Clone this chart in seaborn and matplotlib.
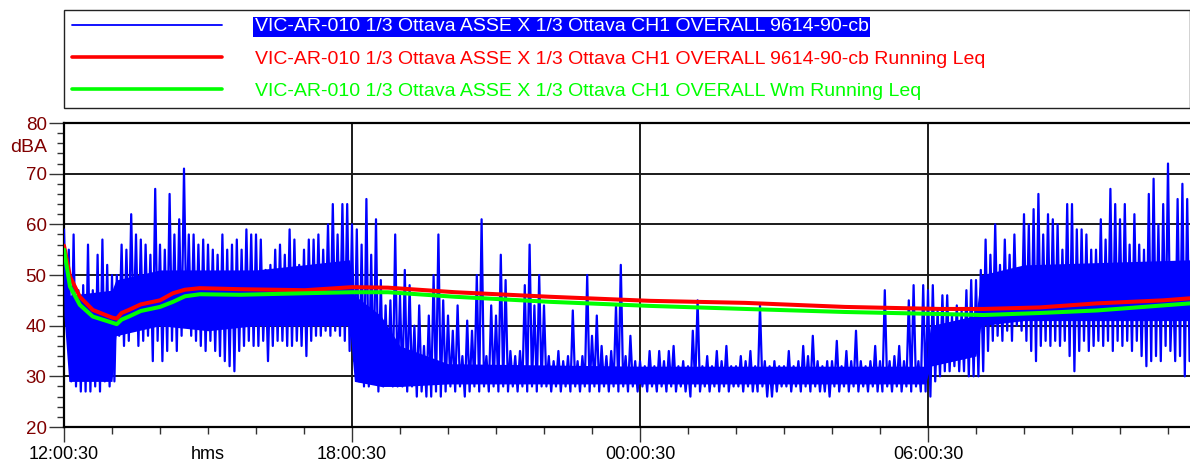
import numpy as np
import pandas as pd
import matplotlib
matplotlib.use("Agg")
import matplotlib.pyplot as plt
import seaborn as sns
from matplotlib.ticker import MultipleLocator
from matplotlib.lines import Line2D
import matplotlib.transforms as mtransforms

sns.set_style("ticks")
plt.rcParams["font.family"] = ["Liberation Sans", "DejaVu Sans"]

# ---------------- data ----------------
series_names = [
    "VIC-AR-010 1/3 Ottava ASSE X 1/3 Ottava CH1 OVERALL 9614-90-cb",
    "VIC-AR-010 1/3 Ottava ASSE X 1/3 Ottava CH1 OVERALL 9614-90-cb Running Leq",
    "VIC-AR-010 1/3 Ottava ASSE X 1/3 Ottava CH1 OVERALL Wm Running Leq",
]
tick_hours = [0, 6, 12, 18]
tick_labels = ["12:00:30", "18:00:30", "00:00:30", "06:00:30"]
y_unit = "dBA"
x_unit = "hms"

# blue level: local peaks and troughs every 6 minutes (hours since 12:00:30)
blue_peaks = [
    59, 55, 58, 47, 48, 56, 47, 54, 57, 52,
    50, 50, 56, 55, 62, 58, 57, 56, 54, 67,
    56, 55, 66, 58, 61, 71, 58, 58, 56, 57,
    56, 55, 54, 58, 55, 56, 57, 55, 59, 58,
    58, 57, 51, 52, 55, 56, 54, 59, 57, 52,
    55, 57, 57, 58, 55, 60, 64, 58, 64, 64,
    60, 59, 56, 65, 54, 61, 49, 44, 45, 58,
    46, 51, 48, 40, 44, 36, 42, 50, 58, 45,
    42, 39, 44, 34, 41, 39, 50, 61, 34, 44,
    42, 54, 49, 35, 34, 35, 48, 56, 44, 50,
    44, 34, 33, 35, 33, 34, 43, 33, 34, 50,
    38, 42, 36, 34, 35, 44, 52, 34, 38, 33,
    33, 32, 35, 32, 35, 33, 35, 36, 32, 33,
    32, 39, 45, 32, 34, 32, 35, 33, 36, 32,
    32, 34, 33, 35, 32, 44, 33, 32, 33, 32,
    32, 35, 32, 33, 36, 34, 38, 33, 32, 33,
    33, 37, 32, 35, 33, 39, 33, 32, 33, 36,
    33, 47, 33, 34, 36, 33, 45, 48, 33, 48,
    47, 48, 43, 46, 46, 42, 44, 43, 47, 49,
    49, 51, 57, 54, 60, 52, 57, 54, 58, 50,
    62, 60, 63, 66, 58, 62, 61, 60, 55, 64,
    64, 59, 59, 58, 55, 55, 61, 57, 67, 64,
    61, 64, 56, 62, 56, 55, 66, 69, 60, 64,
    72, 50, 65, 68, 65,
]
blue_troughs = [
    40, 29, 28, 27, 27, 27, 28, 27, 29, 28,
    29, 38, 36, 37, 39, 36, 37, 38, 33, 37,
    33, 35, 37, 35, 38, 40, 38, 37, 36, 35,
    37, 35, 34, 33, 32, 31, 35, 36, 37, 36,
    36, 37, 33, 36, 37, 37, 36, 36, 37, 36,
    34, 37, 38, 38, 39, 38, 39, 38, 37, 35,
    33, 29, 28, 28, 29, 27, 28, 29, 28, 28,
    28, 27, 28, 26, 27, 26, 26, 27, 26, 27,
    28, 27, 28, 26, 27, 28, 27, 28, 27, 28,
    27, 28, 27, 28, 27, 28, 27, 28, 27, 28,
    28, 27, 28, 27, 28, 27, 28, 27, 28, 27,
    28, 27, 28, 27, 28, 27, 28, 27, 28, 27,
    28, 27, 28, 27, 28, 27, 28, 27, 28, 27,
    26, 28, 27, 28, 27, 28, 27, 28, 27, 28,
    28, 27, 28, 27, 27, 28, 26, 26, 27, 28,
    28, 27, 28, 27, 28, 27, 28, 27, 27, 26,
    28, 27, 28, 27, 28, 27, 28, 27, 28, 27,
    27, 28, 27, 28, 27, 28, 27, 28, 27, 27,
    26, 29, 30, 31, 31, 32, 31, 31, 30, 30,
    30, 31, 35, 37, 38, 37, 39, 37, 40, 39,
    37, 35, 33, 36, 37, 36, 37, 36, 37, 34,
    31, 35, 37, 35, 36, 37, 36, 37, 35, 37,
    36, 37, 35, 37, 34, 32, 33, 34, 33, 36,
    35, 33, 34, 30, 33,
]
blue_step_h = 0.05

# dense core of the blue trace (where the noise is solid)
core_hours = [0.0, 0.1, 1.0, 1.08, 2.0, 3.0, 4.0, 5.0, 5.95, 6.05, 6.6, 7.0, 8.0,
              12.0, 17.95, 18.05, 19.0, 19.1, 20.0, 23.46]
core_top = [54, 46, 47, 49, 51, 51, 51, 52, 53, 46, 42, 36, 32.5,
            32, 32, 40, 42, 50, 52, 53]
core_bottom = [42, 29, 29, 38, 40, 39, 40, 40, 40, 29, 28, 28, 28.5,
               28.5, 28.5, 32, 34, 40, 41, 41]

leq_hours = [0.0, 0.125, 0.33, 0.6, 1.0, 1.1, 1.2, 1.35, 1.6, 2.0, 2.27, 2.52, 2.83,
             3.67, 5.02, 6.0, 6.75, 8.15, 10.13, 12.21, 14.19, 16.27, 18.25, 19.15,
             20.33, 21.52, 22.9, 23.46]
leq_red = [55.8, 49.7, 45.7, 43.1, 41.6, 41.4, 42.5, 43.1, 44.2, 45.0, 46.4, 47.1, 47.4,
           47.2, 47.0, 47.6, 47.5, 46.6, 45.7, 44.9, 44.5, 43.7, 43.3, 43.3,
           43.6, 44.4, 45.0, 45.4]
leq_green = [55.0, 47.7, 44.1, 41.8, 40.6, 40.3, 41.2, 41.8, 42.9, 43.7, 44.7, 45.8, 46.2,
             46.1, 46.4, 46.6, 46.6, 45.7, 44.7, 43.9, 43.3, 42.7, 42.3, 42.1,
             42.5, 43.0, 44.0, 44.4]

# ---------------- build frames ----------------
blue_vals = np.column_stack([blue_peaks, blue_troughs]).ravel()
blue_t = np.arange(len(blue_vals)) * blue_step_h
df_blue = pd.DataFrame({"t": blue_t, "db": blue_vals})
df_leq = pd.DataFrame({"t": leq_hours, "red": leq_red, "green": leq_green})

colors = ["#0000FF", "#FF0000", "#00FF00"]
label_color = "#800000"

W, H = 1190, 467
fig = plt.figure(figsize=(W / 100, H / 100), dpi=100)
ax = fig.add_axes([64 / W, 40 / H, 1126 / W, 304 / H])

ax.fill_between(core_hours, core_bottom, core_top, color=colors[0], lw=0, zorder=3)
sns.lineplot(data=df_blue, x="t", y="db", color=colors[0], lw=1.6,
             estimator=None, sort=False, ax=ax, zorder=3)
sns.lineplot(data=df_leq, x="t", y="red", color=colors[1], lw=2.9,
             estimator=None, sort=False, ax=ax, zorder=4)
sns.lineplot(data=df_leq, x="t", y="green", color=colors[2], lw=2.9,
             estimator=None, sort=False, ax=ax, zorder=5)

ax.set_xlim(0, 1126 / 48)
ax.set_ylim(20, 80)
ax.set_xlabel("")
ax.set_ylabel("")

ax.set_xticks(tick_hours)
ax.set_xticklabels(tick_labels)
ax.xaxis.set_minor_locator(MultipleLocator(1))
ax.set_yticks(np.arange(20, 81, 10))
ax.yaxis.set_minor_locator(MultipleLocator(2))

ax.tick_params(axis="x", which="major", length=11, width=1.0, color="#333333",
               labelsize=13, pad=3, labelcolor="black")
ax.tick_params(axis="x", which="minor", length=5, width=1.0, color="#333333")
ax.tick_params(axis="y", which="major", length=11, width=1.0, color="#333333",
               labelsize=13.5, pad=1.5, labelcolor=label_color)
ax.tick_params(axis="y", which="minor", length=5, width=1.0, color="#333333")

ax.grid(True, which="major", axis="both", color="#1a1a1a", lw=1.4)
ax.set_axisbelow(True)
for s in ["left", "bottom", "top"]:
    ax.spines[s].set_color("black")
    ax.spines[s].set_linewidth(1.6)
ax.spines["right"].set_visible(False)

fig.text(47 / W, 1 - 148 / H, y_unit, ha="right", va="center",
         color=label_color, fontsize=14)
trans = mtransforms.blended_transform_factory(ax.transData, ax.transAxes)
ax.text(3, -0.062, x_unit, transform=trans, ha="center", va="top",
        fontsize=13, color="black")

handles = [Line2D([], [], color=colors[0], lw=1.3),
           Line2D([], [], color=colors[1], lw=2.6),
           Line2D([], [], color=colors[2], lw=2.6)]
leg = fig.legend(handles, series_names, loc="upper left",
                 bbox_to_anchor=(64 / W, (H - 108) / H, 1126 / W, 98 / H),
                 mode="expand", fontsize=14, frameon=True, fancybox=False,
                 framealpha=1, edgecolor="#222222", handlelength=7.75,
                 handletextpad=1.65, borderpad=0.4, labelspacing=0.75,
                 borderaxespad=0)
leg.get_frame().set_linewidth(1.0)
for txt, c in zip(leg.get_texts(), colors):
    txt.set_color(c)
leg.get_texts()[0].set_color("white")
leg.get_texts()[0].set_bbox(dict(facecolor=colors[0], edgecolor="none", pad=1))

fig.savefig("out.png", dpi=100)
